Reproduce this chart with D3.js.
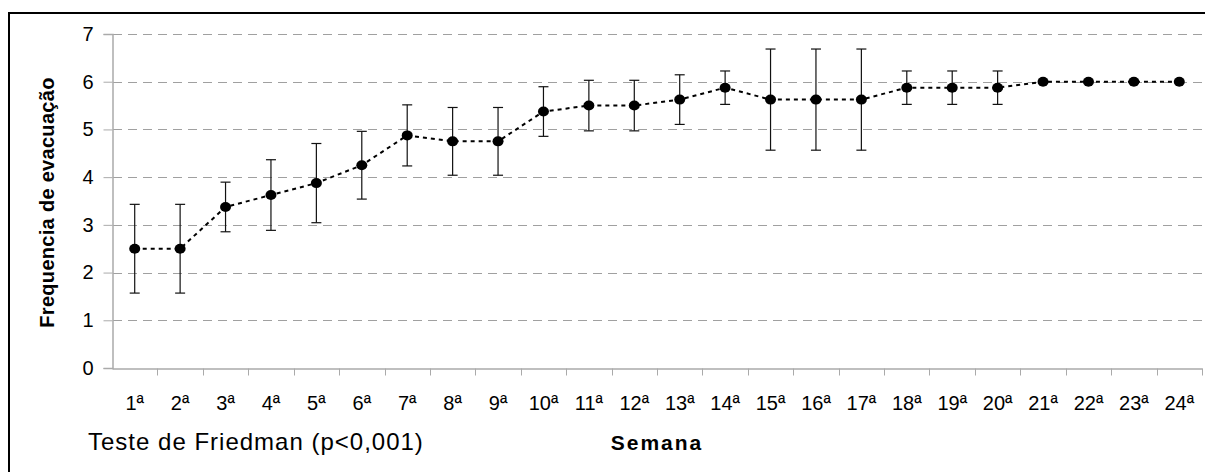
<!DOCTYPE html>
<html>
<head>
<meta charset="utf-8">
<script src="https://cdn.jsdelivr.net/npm/d3@7"></script>
<style>
    body { margin: 0; background: #fff; }
    text { font-family: Arial, "Liberation Sans", sans-serif; }
</style>
</head>
<body>
<div id="chart"></div>
<script>
// weeks and tick labels
const weeks = ["1ª", "2ª", "3ª", "4ª", "5ª", "6ª", "7ª", "8ª", "9ª", "10ª", "11ª", "12ª",
    "13ª", "14ª", "15ª", "16ª", "17ª", "18ª", "19ª", "20ª", "21ª", "22ª", "23ª", "24ª"];
const yTicks = [0, 1, 2, 3, 4, 5, 6, 7];

// mean evacuation frequency per week and its deviation
const means = [2.5, 2.5, 3.375, 3.625, 3.875, 4.25, 4.875, 4.75, 4.75, 5.375, 5.5, 5.5,
    5.625, 5.875, 5.625, 5.625, 5.625, 5.875, 5.875, 5.875, 6, 6, 6, 6];
const deviations = [0.93, 0.93, 0.52, 0.74, 0.83, 0.71, 0.64, 0.71, 0.71, 0.52, 0.53, 0.53,
    0.52, 0.35, 1.06, 1.06, 1.06, 0.35, 0.35, 0.35, 0, 0, 0, 0];

const data = weeks.map((w, i) => ({ week: w, mean: means[i], dev: deviations[i] }));

const svg = d3.select("#chart")
    .append("svg")
    .attr("width", 1205)
    .attr("height", 472);

// outer frame
svg.append("rect")
    .attr("x", 9)
    .attr("y", 13)
    .attr("width", 1220)
    .attr("height", 480)
    .attr("fill", "none")
    .attr("stroke", "#000")
    .attr("stroke-width", 2);

const x = d3.scaleBand()
    .domain(weeks)
    .range([112, 1202]);

const y = d3.scaleLinear()
    .domain([0, 7])
    .range([368, 34]);

// gridlines
svg.append("g")
    .selectAll("line")
    .data(yTicks.filter((d) => d > 0))
    .enter()
    .append("line")
    .attr("x1", 113)
    .attr("x2", 1202)
    .attr("y1", (d) => Math.round(y(d)) + 0.5)
    .attr("y2", (d) => Math.round(y(d)) + 0.5)
    .attr("stroke", "#a0a0a0")
    .attr("stroke-width", 1)
    .attr("stroke-dasharray", "9,6");

// y axis
const yAxis = svg.append("g")
    .attr("transform", "translate(112.5,0)")
    .call(d3.axisLeft(y).tickValues(yTicks).tickSize(9).tickPadding(10).tickFormat(d3.format("d")));

yAxis.select(".domain").attr("stroke", "#aaa").attr("stroke-width", 1.5);
yAxis.selectAll(".tick line").attr("stroke", "#aaa");
yAxis.selectAll(".tick text")
    .attr("font-size", 20)
    .attr("fill", "#000")
    .style("font-family", "Arial, 'Liberation Sans', sans-serif");

// x axis
const xAxis = svg.append("g")
    .attr("transform", "translate(0,368.5)")
    .call(d3.axisBottom(x).tickSize(0).tickPadding(0));

xAxis.select(".domain").attr("stroke", "#aaa").attr("stroke-width", 1.5);
xAxis.selectAll(".tick text")
    .attr("font-size", 20)
    .attr("fill", "#000")
    .attr("dy", null)
    .attr("y", 41)
    .style("font-family", "Arial, 'Liberation Sans', sans-serif");

// boundary ticks between weeks
xAxis.selectAll(".boundary")
    .data(weeks)
    .enter()
    .append("line")
    .attr("class", "boundary")
    .attr("x1", (d) => Math.round(x(d) + x.bandwidth()) + 0.5)
    .attr("x2", (d) => Math.round(x(d) + x.bandwidth()) + 0.5)
    .attr("y1", 0)
    .attr("y2", 7)
    .attr("stroke", "#aaa")
    .attr("stroke-width", 1);

const cx = (d) => x(d.week) + x.bandwidth() / 2;

// error bars
const bars = svg.append("g")
    .selectAll("g")
    .data(data.filter((d) => d.dev > 0))
    .enter()
    .append("g")
    .attr("stroke", "#111")
    .attr("stroke-width", 1.2);

bars.append("line")
    .attr("x1", cx)
    .attr("x2", cx)
    .attr("y1", (d) => y(d.mean + d.dev))
    .attr("y2", (d) => y(d.mean - d.dev));

bars.append("line")
    .attr("x1", (d) => cx(d) - 5)
    .attr("x2", (d) => cx(d) + 5)
    .attr("y1", (d) => y(d.mean + d.dev))
    .attr("y2", (d) => y(d.mean + d.dev));

bars.append("line")
    .attr("x1", (d) => cx(d) - 5)
    .attr("x2", (d) => cx(d) + 5)
    .attr("y1", (d) => y(d.mean - d.dev))
    .attr("y2", (d) => y(d.mean - d.dev));

// dotted line through the means
svg.append("path")
    .datum(data)
    .attr("fill", "none")
    .attr("stroke", "#000")
    .attr("stroke-width", 2)
    .attr("stroke-dasharray", "4,4")
    .attr("d", d3.line().x(cx).y((d) => y(d.mean)));

// markers
svg.append("g")
    .selectAll("ellipse")
    .data(data)
    .enter()
    .append("ellipse")
    .attr("cx", cx)
    .attr("cy", (d) => y(d.mean))
    .attr("rx", 5.5)
    .attr("ry", 5)
    .attr("fill", "#000");

// axis titles and note
svg.append("text")
    .attr("transform", "translate(54,202.5) rotate(-90)")
    .attr("text-anchor", "middle")
    .attr("font-size", 20)
    .attr("font-weight", "bold")
    .attr("letter-spacing", 0.3)
    .text("Frequencia de evacuação");

svg.append("text")
    .attr("x", 657)
    .attr("y", 450)
    .attr("text-anchor", "middle")
    .attr("font-size", 21)
    .attr("font-weight", "bold")
    .attr("letter-spacing", 2)
    .text("Semana");

svg.append("text")
    .attr("x", 88)
    .attr("y", 450)
    .attr("font-size", 24)
    .attr("letter-spacing", 1)
    .text("Teste de Friedman (p<0,001)");
</script>
</body>
</html>
